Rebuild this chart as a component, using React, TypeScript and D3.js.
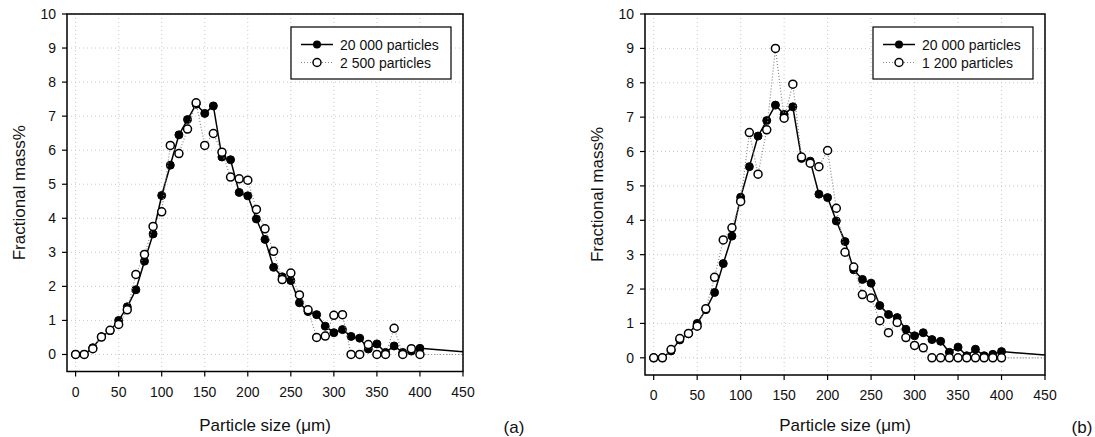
import React from "react";
import * as d3 from "d3";

const sizes = [0,10,20,30,40,50,60,70,80,90,100,110,120,130,140,150,160,170,180,190,200,210,220,230,240,250,260,270,280,290,300,310,320,330,340,350,360,370,380,390,400];

const mass20000 = [0,0,0.2,0.52,0.7,1.0,1.4,1.9,2.74,3.54,4.67,5.56,6.45,6.9,7.35,7.08,7.3,5.8,5.72,4.76,4.66,3.98,3.38,2.56,2.28,2.17,1.52,1.26,1.17,0.83,0.64,0.73,0.53,0.48,0.16,0.31,0.06,0.25,0.06,0.1,0.18];
const mass2500 = [0,0,0.17,0.51,0.71,0.88,1.31,2.35,2.94,3.76,4.19,6.14,5.9,6.62,7.39,6.14,6.49,5.94,5.21,5.16,5.12,4.26,3.69,3.03,2.2,2.39,1.75,1.31,0.5,0.54,1.15,1.17,0,0,0.29,0,0,0.77,0,0.17,0];
const mass1200 = [0,0,0.24,0.56,0.71,0.92,1.43,2.34,3.43,3.78,4.55,6.55,5.34,6.63,9.0,6.97,7.96,5.84,5.66,5.56,6.03,4.35,3.07,2.64,1.84,1.74,1.08,0.73,1.03,0.59,0.36,0.29,0,0,0,0,0,0,0,0,0];

// line continuation to the right edge (no marker)
const tailX = 450;
const tail20000 = 0.08;
const tailSmall = 0;

const xTicks = [0,50,100,150,200,250,300,350,400,450];
const yTicks = [0,1,2,3,4,5,6,7,8,9,10];
const xDomain = [-10, 450];
const yDomain = [-0.5, 10];

const labelFull = "20 000 particles";
const labelA = "2 500 particles";
const labelB = "1 200 particles";
const xTitle = "Particle size (\u03bcm)";
const yTitle = "Fractional mass%";

const FONT = "Arial, 'Liberation Sans', Helvetica, sans-serif";

type PanelProps = {
  left: number; right: number; top: number; bottom: number;
  small: number[]; smallLabel: string; tag: string; tagX: number; id: string;
};

function Panel({ left, right, top, bottom, small, smallLabel, tag, tagX, id }: PanelProps) {
  const x = d3.scaleLinear().domain(xDomain).range([left, right]);
  const y = d3.scaleLinear().domain(yDomain).range([bottom, top]);
  const ptsFull: [number, number][] = sizes.map((s, i) => [s, mass20000[i]]);
  const ptsSmall: [number, number][] = sizes.map((s, i) => [s, small[i]]);
  const line = d3.line<[number, number]>().x(d => x(d[0])).y(d => y(d[1]));
  const fullPath = line([...ptsFull, [tailX, tail20000]]) || "";
  const smallPath = line([...ptsSmall, [tailX, tailSmall]]) || "";
  const lgX = right - 172;
  const lgY = top + 13;
  const r = 4;
  return (
    <g>
      <defs>
        <clipPath id={"clip" + id}>
          <rect x={left} y={top} width={right - left} height={bottom - top} />
        </clipPath>
      </defs>
      {/* grid */}
      {xTicks.map(t => (
        <line key={"gx" + t} x1={x(t)} x2={x(t)} y1={top} y2={bottom} stroke="#c8c8c8" strokeWidth={1} strokeDasharray="1,3" />
      ))}
      {yTicks.map(t => (
        <line key={"gy" + t} x1={left} x2={right} y1={y(t)} y2={y(t)} stroke="#c8c8c8" strokeWidth={1} strokeDasharray="1,3" />
      ))}
      {/* series */}
      <g clipPath={`url(#clip${id})`}>
        <path d={fullPath} fill="none" stroke="#000" strokeWidth={1.5} />
        {ptsFull.map((p, i) => (
          <circle key={"f" + i} cx={x(p[0])} cy={y(p[1])} r={r} fill="#000" stroke="#000" strokeWidth={1} />
        ))}
        <path d={smallPath} fill="none" stroke="#888" strokeWidth={1.2} strokeDasharray="1,2" />
        {ptsSmall.map((p, i) => (
          <circle key={"s" + i} cx={x(p[0])} cy={y(p[1])} r={r} fill="#fff" stroke="#000" strokeWidth={1.5} />
        ))}
      </g>
      {/* frame */}
      <rect x={left} y={top} width={right - left} height={bottom - top} fill="none" stroke="#000" strokeWidth={1.5} />
      {/* ticks */}
      {xTicks.map(t => (
        <g key={"tx" + t}>
          <line x1={x(t)} x2={x(t)} y1={bottom} y2={bottom + 5} stroke="#000" strokeWidth={1.2} />
          <text x={x(t)} y={bottom + 25} textAnchor="middle" fontSize={14} fontFamily={FONT} fill="#111">{t}</text>
        </g>
      ))}
      {yTicks.map(t => (
        <g key={"ty" + t}>
          <line x1={left - 5} x2={left} y1={y(t)} y2={y(t)} stroke="#000" strokeWidth={1.2} />
          <text x={left - 11} y={y(t) + 5} textAnchor="end" fontSize={14} fontFamily={FONT} fill="#111">{t}</text>
        </g>
      ))}
      {/* titles */}
      <text x={(left + right) / 2} y={431} textAnchor="middle" fontSize={17} fontFamily={FONT} fill="#111">{xTitle}</text>
      <text transform={`translate(${left - 42},${(top + bottom) / 2}) rotate(-90)`} textAnchor="middle" fontSize={17} fontFamily={FONT} fill="#111">{yTitle}</text>
      <text x={tagX} y={433} textAnchor="middle" fontSize={17} fontFamily={FONT} fill="#111">{tag}</text>
      {/* legend */}
      <rect x={lgX} y={lgY} width={160} height={52} fill="#fff" stroke="#000" strokeWidth={1.2} />
      <line x1={lgX + 10} x2={lgX + 42} y1={lgY + 17.5} y2={lgY + 17.5} stroke="#000" strokeWidth={1.5} />
      <circle cx={lgX + 26} cy={lgY + 17.5} r={r} fill="#000" />
      <text x={lgX + 49} y={lgY + 22.5} fontSize={14} fontFamily={FONT} fill="#111">{labelFull}</text>
      <line x1={lgX + 10} x2={lgX + 42} y1={lgY + 35.5} y2={lgY + 35.5} stroke="#888" strokeWidth={1.2} strokeDasharray="1,2" />
      <circle cx={lgX + 26} cy={lgY + 35.5} r={r} fill="#fff" stroke="#000" strokeWidth={1.5} />
      <text x={lgX + 49} y={lgY + 40.5} fontSize={14} fontFamily={FONT} fill="#111">{smallLabel}</text>
    </g>
  );
}

export default function App() {
  return (
    <svg width={1095} height={437} style={{ position: "absolute", left: 0, top: 0, background: "#fff" }}>
      <rect x={0} y={0} width={1095} height={437} fill="#fff" />
      <Panel id="a" left={67} right={463} top={14} bottom={371.5} small={mass2500} smallLabel={labelA} tag="(a)" tagX={514} />
      <Panel id="b" left={645} right={1045} top={14} bottom={375} small={mass1200} smallLabel={labelB} tag="(b)" tagX={1082} />
    </svg>
  );
}
